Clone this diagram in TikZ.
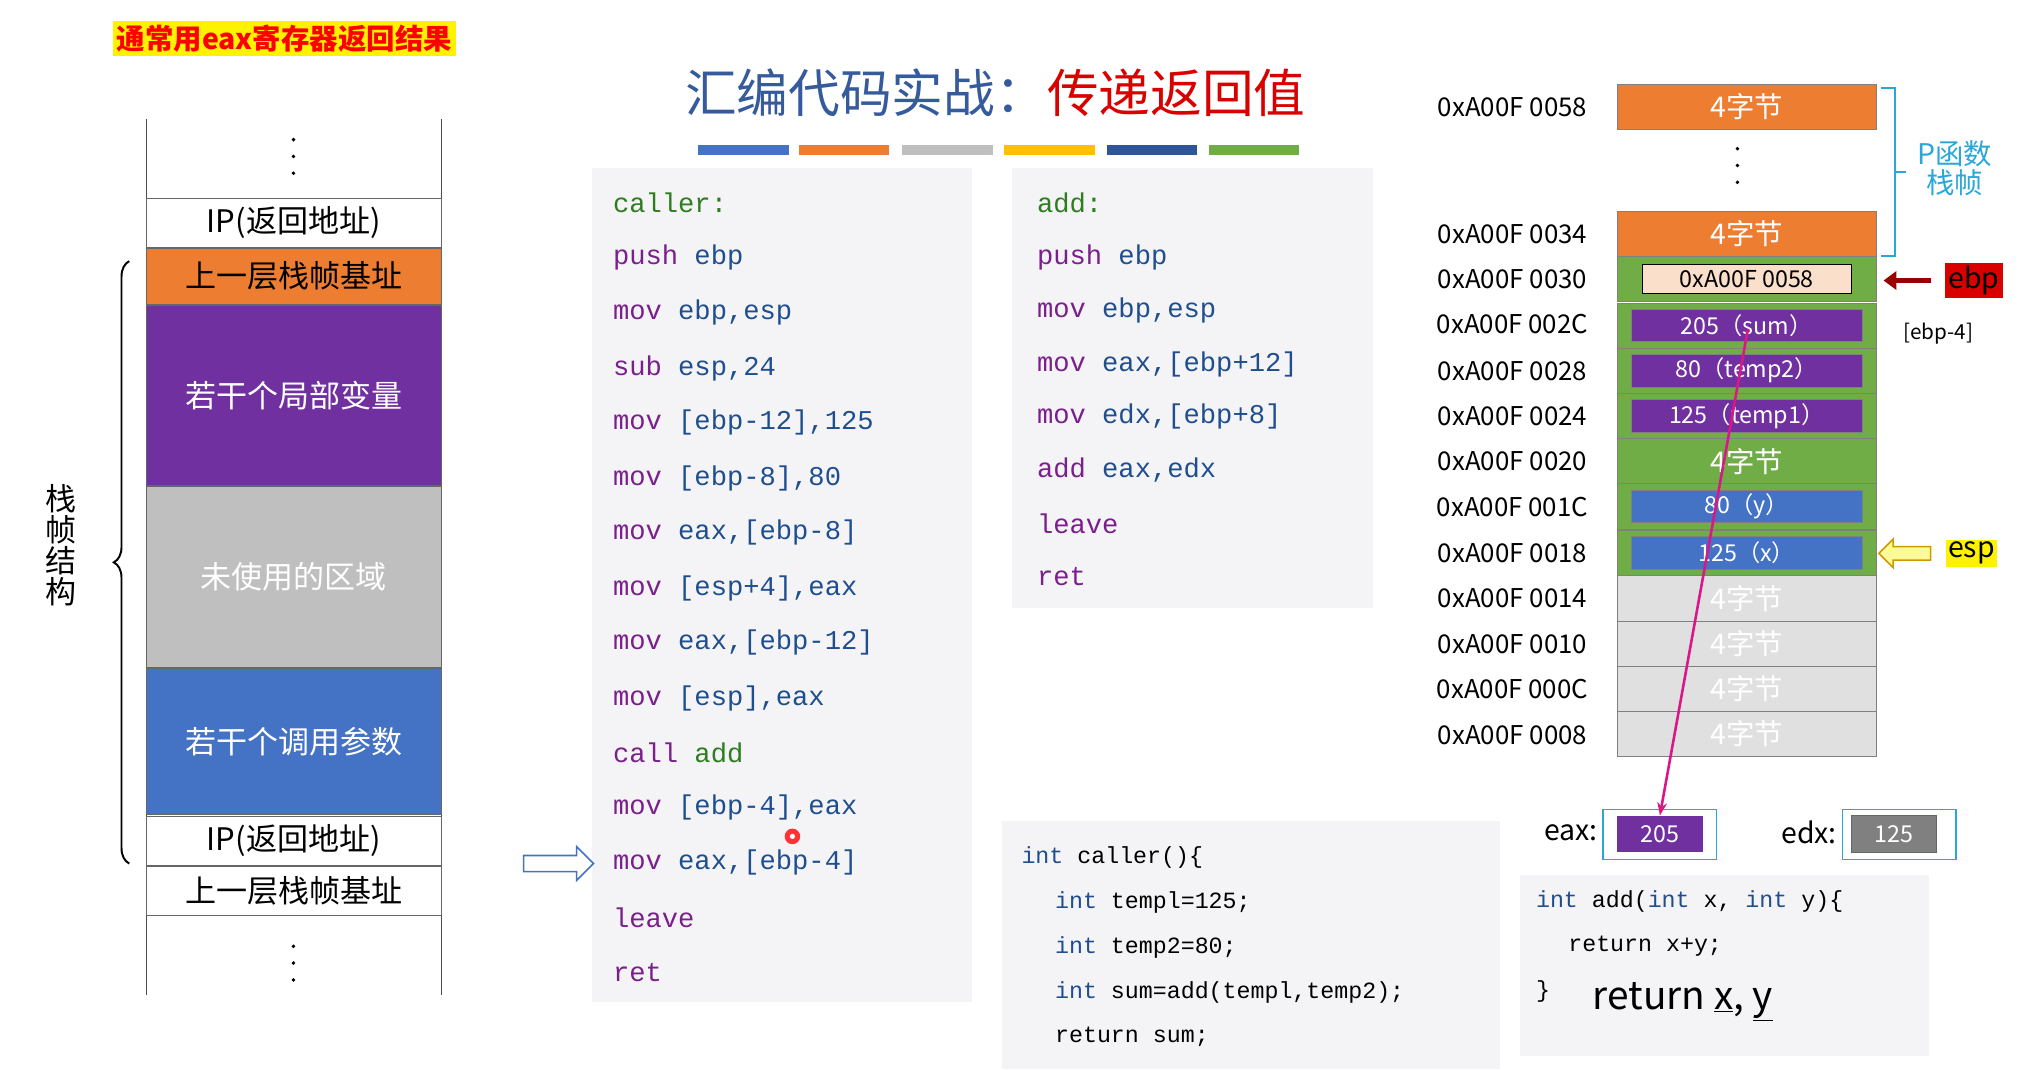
\documentclass[tikz,border=0pt]{standalone}
\usepackage{fontspec}
\setmainfont{Noto Sans CJK SC}
\setmonofont{Liberation Mono}
\usetikzlibrary{decorations.pathreplacing,arrows.meta,shapes.arrows}
\definecolor{cpur}{HTML}{7030A0}
\definecolor{cora}{HTML}{ED7D31}
\definecolor{cgra}{HTML}{BFBFBF}
\definecolor{cblu}{HTML}{4472C4}
\definecolor{cgrn}{HTML}{70AD47}
\definecolor{cyel}{HTML}{FFC000}
\definecolor{cdbl}{HTML}{2E5597}
\definecolor{ins}{HTML}{7A1F8C}
\definecolor{opd}{HTML}{1F4E8F}
\definecolor{lbl}{HTML}{2E7D1E}
\definecolor{codebg}{HTML}{F4F4F6}
\definecolor{cyanb}{HTML}{2AA7D8}
\newcommand{\Ins}[2]{\textcolor{ins}{#1} \textcolor{opd}{#2}}
\tikzset{
 fs/.style={font=\fontsize{#1}{#1}\selectfont},
 cell/.style={draw=black!60, minimum width=228pt, anchor=north west, inner sep=0, fs=24},
 code/.style={anchor=west, inner sep=0, font=\ttfamily\fontsize{21}{21}\selectfont},
 ccode/.style={anchor=west, inner sep=0, font=\ttfamily\fontsize{18}{18}\selectfont},
 addr/.style={anchor=center, fs=20, inner sep=0},
 rcell/.style={draw=black!50, minimum width=200pt, minimum height=35pt, anchor=north west, inner sep=0, fs=22},
 inner/.style={draw=black!50, minimum width=178pt, minimum height=25pt, inner sep=0, fs=18, text=white},
 vdot/.style={fill=black, circle, inner sep=0, minimum size=3pt},
}
\begin{document}
\begin{tikzpicture}[x=1pt,y=-1pt]
\useasboundingbox[fill=white] (0,0) rectangle (1568,827);
\node[fill=yellow, text=red, font=\bfseries\fontsize{22}{22}\selectfont, inner sep=3pt] (note) at (220,30) {通常用eax寄存器返回结果};
\draw[black!70] (113,92) -- (113,770) (341,92) -- (341,770);
\foreach \y [count=\i] in {108,121,134} \node[vdot] (d1\i) at (227,\y) {};
\node[cell, minimum height=38pt] (ip1) at (113,153) {IP(返回地址)};
\node[cell, minimum height=43pt, fill=cora] (b1) at (113,192) {上一层栈帧基址};
\node[cell, minimum height=139pt, fill=cpur, text=white] (loc) at (113,236) {若干个局部变量};
\node[cell, minimum height=140pt, fill=cgra, text=white] (un) at (113,376) {未使用的区域};
\node[cell, minimum height=113pt, fill=cblu, text=white] (par) at (113,517) {若干个调用参数};
\node[cell, minimum height=38pt] (ip2) at (113,631) {IP(返回地址)};
\node[cell, minimum height=38pt] (b2) at (113,670) {上一层栈帧基址};
\foreach \y [count=\i] in {732,745,758} \node[vdot] (d2\i) at (227,\y) {};
\draw[decorate, decoration={brace, amplitude=12pt}, line width=1.5pt] (100,668) -- (100,202);
\node[fs=24, align=center, inner sep=0] (sf) at (47,422) {栈\\帧\\结\\构};
\node[fs=40, inner sep=0] (title) at (770,72) {\textcolor{cblu!80!black}{汇编代码实战：}\textcolor{red!85!black}{传递返回值}};
\foreach \x/\c [count=\i] in {540/cblu,618/cora,698/cgra,777/cyel,856/cdbl,935/cgrn}
  \fill[\c] (\x,112) rectangle ++(70,8);
\fill[codebg] (458,130) rectangle (752,775);
\node[code] (c1) at (474,157) {\textcolor{lbl}{caller:}};
\node[code] (c2) at (474,199) {\Ins{push}{ebp}};
\node[code] (c3) at (474,242) {\Ins{mov}{ebp,esp}};
\node[code] (c4) at (474,285) {\Ins{sub}{esp,24}};
\node[code] (c5) at (474,327) {\Ins{mov}{[ebp-12],125}};
\node[code] (c6) at (474,370) {\Ins{mov}{[ebp-8],80}};
\node[code] (c7) at (474,412) {\Ins{mov}{eax,[ebp-8]}};
\node[code] (c8) at (474,455) {\Ins{mov}{[esp+4],eax}};
\node[code] (c9) at (474,497) {\Ins{mov}{eax,[ebp-12]}};
\node[code] (c10) at (474,540) {\Ins{mov}{[esp],eax}};
\node[code] (c11) at (474,582) {\textcolor{ins}{call} \textcolor{lbl}{ add}};
\node[code] (c12) at (474,625) {\Ins{mov}{[ebp-4],eax}};
\node[code] (c13) at (474,667) {\Ins{mov}{eax,[ebp-4]}};
\node[code] (c14) at (474,710) {\textcolor{ins}{leave}};
\node[code] (c15) at (474,752) {\textcolor{ins}{ret}};
\fill[red!80] (613,647) circle (6pt);
\fill[white] (613,647) circle (2pt);
\node[single arrow, draw=cblu, line width=1.2pt, fill=white, minimum height=54pt, minimum width=26pt, single arrow head extend=5pt, single arrow head indent=0pt, inner sep=4pt] (ptr) at (429,668) {};
\fill[codebg] (783,130) rectangle (1062,470);
\node[code] (a1) at (802,157) {\textcolor{lbl}{add:}};
\node[code] (a2) at (802,199) {\Ins{push}{ebp}};
\node[code] (a3) at (802,240) {\Ins{mov}{ebp,esp}};
\node[code] (a4) at (802,282) {\Ins{mov}{eax,[ebp+12]}};
\node[code] (a5) at (802,322) {\Ins{mov}{edx,[ebp+8]}};
\node[code] (a6) at (802,364) {\Ins{add}{eax,edx}};
\node[code] (a7) at (802,405) {\textcolor{ins}{leave}};
\node[code] (a8) at (802,446) {\textcolor{ins}{ret}};
\fill[codebg] (775,635) rectangle (1160,827);
\node[ccode] (k1) at (790,663) {\textcolor{opd}{int} caller()\{};
\node[ccode] (k2) at (816,698) {\textcolor{opd}{int} templ=125;};
\node[ccode] (k3) at (816,733) {\textcolor{opd}{int} temp2=80;};
\node[ccode] (k4) at (816,768) {\textcolor{opd}{int} sum=add(templ,temp2);};
\node[ccode] (k5) at (816,802) {return sum;};
\fill[codebg] (1176,677) rectangle (1492,817);
\node[ccode] (m1) at (1188,697) {\textcolor{opd}{int} add(\textcolor{opd}{int} x, \textcolor{opd}{int} y)\{};
\node[ccode] (m2) at (1213,732) {return x+y;};
\node[ccode] (m3) at (1188,767) {\}};
\node[anchor=west, inner sep=0, font=\fontsize{30}{30}\selectfont] (hw) at (1232,775) {return \underline{x}, \underline{y}};
\node[anchor=east, fs=22, inner sep=0] (eaxl) at (1236,644) {eax:};
\draw[cyanb, line width=1pt] (1240,626) rectangle (1328,665);
\node[fill=cpur, text=white, minimum width=66pt, minimum height=28pt, inner sep=0, fs=18] (eax) at (1284,645) {205};
\node[anchor=east, fs=22, inner sep=0] (edxl) at (1421,644) {edx:};
\draw[cyanb, line width=1pt] (1425,626) rectangle (1513,665);
\node[fill=gray, draw=black!60, text=white, minimum width=66pt, minimum height=28pt, inner sep=0, fs=18] (edx) at (1465,645) {125};
\node[rcell, fill=cora, text=white] (r58) at (1251,65) {4字节};
\foreach \y [count=\i] in {115,128,141} \node[vdot] (rd\i) at (1344,\y) {};
\node[rcell, fill=cora, text=white] (r34) at (1251,163) {4字节};
\foreach \y/\n in {198/r30,234/r2C,269/r28,304/r24,339/r20,374/r1C,410/r18}
  \node[rcell, fill=cgrn, text=white] (\n) at (1251,\y) {};
\node[text=white, fs=22] at (r20) {4字节};
\foreach \y/\n in {445/r14,480/r10,515/r0C,550/r08}
  \node[rcell, fill=black!12, text=white] (\n) at (1251,\y) {4字节};
\node[inner, fill=cora!25, draw=black, text=black, minimum width=162pt, minimum height=22pt] (i30) at (r30) {0xA00F 0058};
\node[inner, fill=cpur] (i2C) at (r2C) {205（sum）};
\node[inner, fill=cpur] (i28) at (r28) {80（temp2）};
\node[inner, fill=cpur] (i24) at (r24) {125（temp1）};
\node[inner, fill=cblu] (i1C) at (r1C) {80（y）};
\node[inner, fill=cblu] (i18) at (r18) {125（x）};
\foreach \y/\t in {83/0058,181/0034,216/0030,251/002C,287/0028,322/0024,357/0020,392/001C,428/0018,463/0014,498/0010,533/000C,569/0008}
  \node[addr] (ad\t) at (1170,\y) {0xA00F \t};
\draw[cyanb, line width=1.5pt] (1455,68) -- (1466,68) -- (1466,198) -- (1455,198);
\draw[cyanb, line width=1.5pt] (1466,133) -- (1474,133);
\node[fs=22, text=cyanb, align=center, inner sep=0] (pf) at (1512,130) {P函数\\栈帧};
\node[fill=red!85!black, text=black, fs=22, inner sep=2pt, minimum width=45pt] (ebp) at (1527,217) {ebp};
\draw[red!60!black, line width=4pt, -{Triangle[length=10pt,width=14pt]}] (1494,217) -- (1457,217);
\node[fs=16, anchor=west, inner sep=0] (em4) at (1472,258) {[ebp-4]};
\node[fill=yellow, fs=22, inner sep=2pt] (esp) at (1525,428) {esp};
\node[single arrow, shape border rotate=180, draw=cyel!80!black, line width=1.2pt, fill=yellow!40, minimum height=40pt, minimum width=22pt, single arrow head extend=4pt, single arrow head indent=0pt, inner sep=3pt] (espa) at (1476,428) {};
\draw[magenta!80!violet, line width=2pt, -{Stealth[length=10pt]}] (1352,255) -- (eax.north);
\end{tikzpicture}
\end{document}
